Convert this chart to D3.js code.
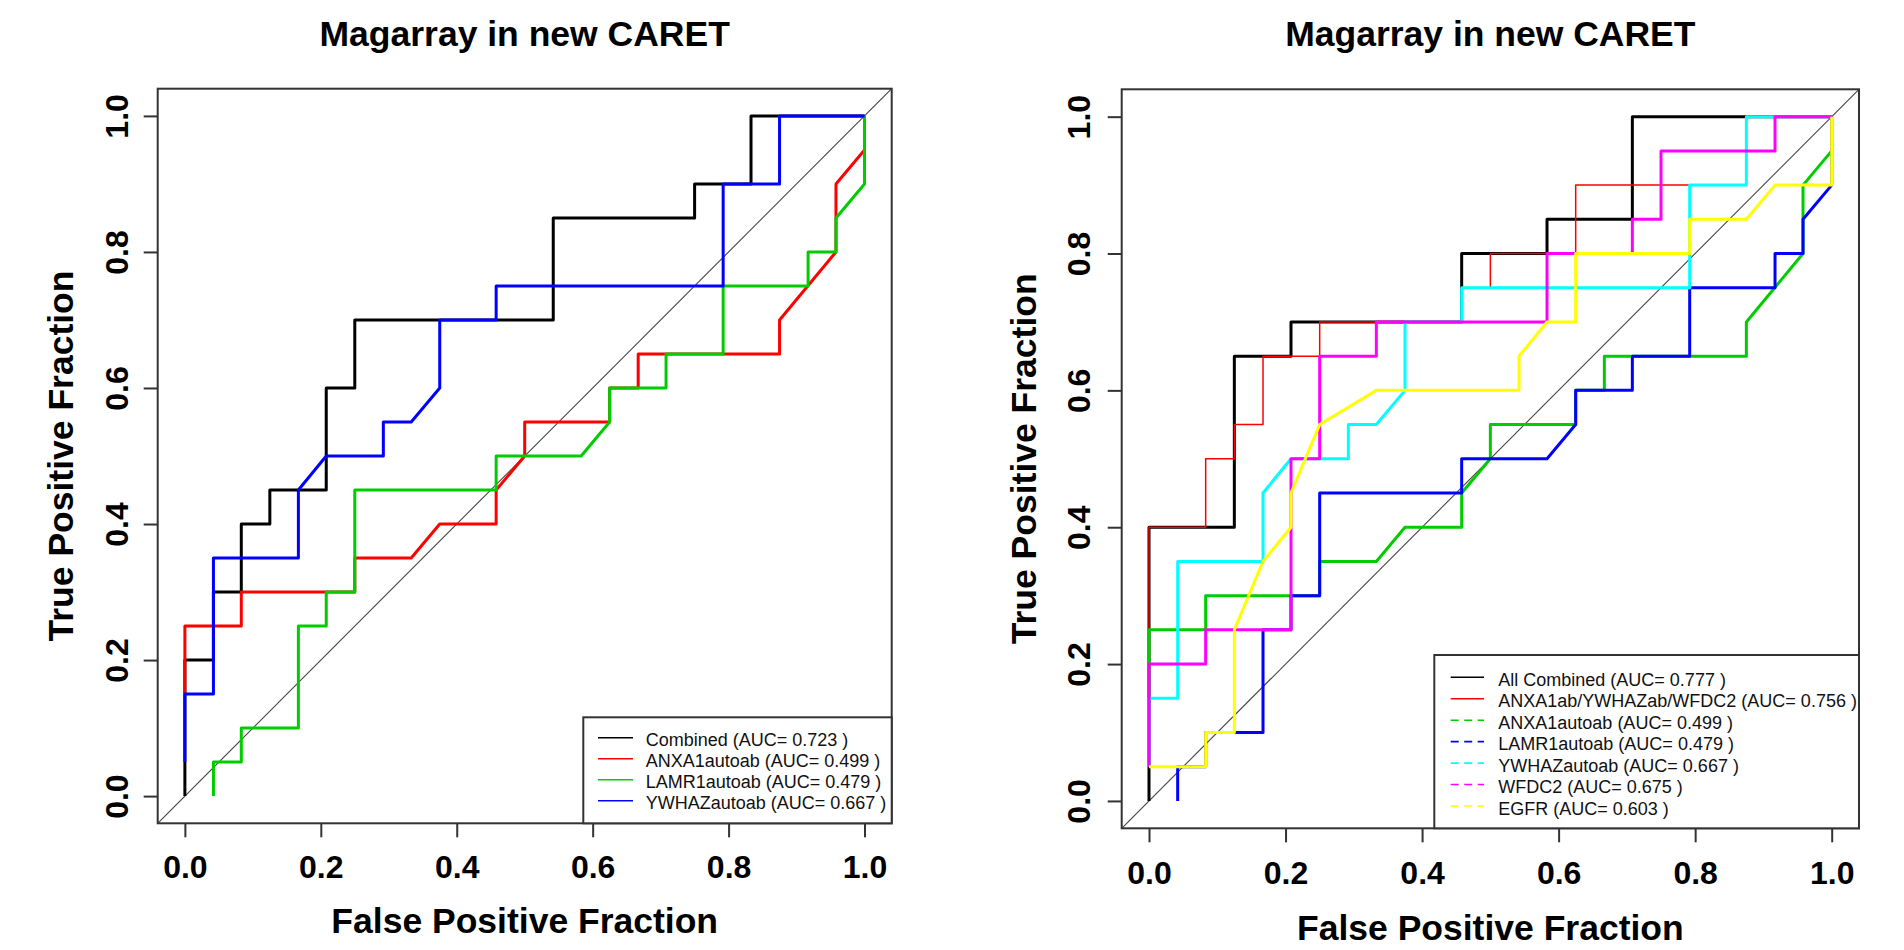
<!DOCTYPE html>
<html><head><meta charset="utf-8">
<script src="https://cdn.jsdelivr.net/npm/d3@7/dist/d3.min.js"></script>
<style>
body{margin:0;background:#fff;}
svg{display:block;}
text{font-family:"Liberation Sans", Arial, Helvetica, sans-serif;}
</style>
</head><body>
<svg id="chart" width="1904" height="950"></svg>
<script>
// ---------- data ----------
const plotTitle = "Magarray in new CARET";
const xAxisTitle = "False Positive Fraction";
const yAxisTitle = "True Positive Fraction";
const tickValues = [0, 0.2, 0.4, 0.6, 0.8, 1.0];
const tickLabels = ["0.0", "0.2", "0.4", "0.6", "0.8", "1.0"];

// left panel: Combined
const combinedFPR = [0, 0, 0.042, 0.042, 0.083, 0.083, 0.125, 0.125, 0.208, 0.208, 0.25, 0.25, 0.542, 0.542, 0.75, 0.75, 0.833, 0.833, 1];
const combinedTPR = [0, 0.2, 0.2, 0.3, 0.3, 0.4, 0.4, 0.45, 0.45, 0.6, 0.6, 0.7, 0.7, 0.85, 0.85, 0.9, 0.9, 1, 1];
// ANXA1autoab
const anxa1FPR = [0, 0, 0.083, 0.083, 0.25, 0.25, 0.333, 0.375, 0.458, 0.458, 0.5, 0.5, 0.625, 0.625, 0.667, 0.667, 0.875, 0.875, 0.958, 0.958, 1];
const anxa1TPR = [0.15, 0.25, 0.25, 0.3, 0.3, 0.35, 0.35, 0.4, 0.4, 0.45, 0.5, 0.55, 0.55, 0.6, 0.6, 0.65, 0.65, 0.7, 0.8, 0.9, 0.95];
// LAMR1autoab
const lamr1FPR = [0.042, 0.042, 0.083, 0.083, 0.167, 0.167, 0.208, 0.208, 0.25, 0.25, 0.458, 0.458, 0.583, 0.625, 0.625, 0.708, 0.708, 0.792, 0.792, 0.917, 0.917, 0.958, 0.958, 1, 1];
const lamr1TPR = [0, 0.05, 0.05, 0.1, 0.1, 0.25, 0.25, 0.3, 0.3, 0.45, 0.45, 0.5, 0.5, 0.55, 0.6, 0.6, 0.65, 0.65, 0.75, 0.75, 0.8, 0.8, 0.85, 0.9, 1];
// YWHAZautoab
const ywhazFPR = [0, 0, 0.042, 0.042, 0.167, 0.167, 0.208, 0.292, 0.292, 0.333, 0.375, 0.375, 0.458, 0.458, 0.792, 0.792, 0.875, 0.875, 1];
const ywhazTPR = [0.05, 0.15, 0.15, 0.35, 0.35, 0.45, 0.5, 0.5, 0.55, 0.55, 0.6, 0.7, 0.7, 0.75, 0.75, 0.9, 0.9, 1, 1];

// right panel: All Combined
const allCombinedFPR = [0, 0, 0.125, 0.125, 0.208, 0.208, 0.458, 0.458, 0.583, 0.583, 0.708, 0.708, 1];
const allCombinedTPR = [0, 0.4, 0.4, 0.65, 0.65, 0.7, 0.7, 0.8, 0.8, 0.85, 0.85, 1, 1];
// ANXA1ab/YWHAZab/WFDC2
const panelThreeFPR = [0, 0, 0.083, 0.083, 0.125, 0.125, 0.167, 0.167, 0.25, 0.25, 0.458, 0.458, 0.5, 0.5, 0.625, 0.625, 0.875, 0.875, 1];
const panelThreeTPR = [0.25, 0.4, 0.4, 0.5, 0.5, 0.55, 0.55, 0.65, 0.65, 0.7, 0.7, 0.75, 0.75, 0.8, 0.8, 0.9, 0.9, 1, 1];
// WFDC2
const wfdc2FPR = [0, 0, 0.083, 0.083, 0.208, 0.208, 0.25, 0.25, 0.333, 0.333, 0.583, 0.583, 0.708, 0.708, 0.75, 0.75, 0.917, 0.917, 1];
const wfdc2TPR = [0.05, 0.2, 0.2, 0.25, 0.25, 0.5, 0.5, 0.65, 0.65, 0.7, 0.7, 0.8, 0.8, 0.85, 0.85, 0.95, 0.95, 1, 1];
// EGFR
const egfrFPR = [0, 0.083, 0.083, 0.125, 0.125, 0.167, 0.208, 0.208, 0.25, 0.333, 0.542, 0.542, 0.583, 0.625, 0.625, 0.792, 0.792, 0.875, 0.917, 1, 1];
const egfrTPR = [0.05, 0.05, 0.1, 0.1, 0.25, 0.35, 0.4, 0.45, 0.55, 0.6, 0.6, 0.65, 0.7, 0.7, 0.8, 0.8, 0.85, 0.85, 0.9, 0.9, 1];

const leftLabels = ["Combined (AUC= 0.723 )", "ANXA1autoab (AUC= 0.499 )", "LAMR1autoab (AUC= 0.479 )", "YWHAZautoab (AUC= 0.667 )"];
const leftColors = ["#000000", "#ff0000", "#00cd00", "#0000ff"];
const rightLabels = ["All Combined (AUC= 0.777 )", "ANXA1ab/YWHAZab/WFDC2 (AUC= 0.756 )", "ANXA1autoab (AUC= 0.499 )", "LAMR1autoab (AUC= 0.479 )", "YWHAZautoab (AUC= 0.667 )", "WFDC2 (AUC= 0.675 )", "EGFR (AUC= 0.603 )"];
const rightColors = ["#000000", "#ff0000", "#00cd00", "#0000ff", "#00ffff", "#ff00ff", "#ffff00"];

// ---------- drawing ----------
const svg = d3.select("#chart");
svg.append("rect").attr("width", 1904).attr("height", 950).attr("fill", "#fff");

const zip = (xs, ys) => xs.map((x, i) => [x, ys[i]]);

function drawPanel(cfg) {
  const x = d3.scaleLinear().domain([-0.04, 1.04]).range([cfg.left, cfg.right]);
  const y = d3.scaleLinear().domain([-0.04, 1.04]).range([cfg.bottom, cfg.top]);
  const g = svg.append("g");
  const frame = "#333";

  // diagonal reference
  g.append("line")
    .attr("x1", x(-0.04)).attr("y1", y(-0.04)).attr("x2", x(1.04)).attr("y2", y(1.04))
    .attr("stroke", "#444").attr("stroke-width", 1.1);

  const line = d3.line().x(d => x(d[0])).y(d => y(d[1]));
  cfg.series.forEach(s => {
    g.append("path").attr("d", line(zip(s.fpr, s.tpr)))
      .attr("fill", "none").attr("stroke", s.color)
      .attr("stroke-width", s.width).attr("stroke-linejoin", "round").attr("stroke-linecap", "butt");
  });

  // box
  g.append("rect").attr("x", cfg.left).attr("y", cfg.top)
    .attr("width", cfg.right - cfg.left).attr("height", cfg.bottom - cfg.top)
    .attr("fill", "none").attr("stroke", frame).attr("stroke-width", 2);

  // x axis
  const xa = g.append("g").attr("transform", `translate(0,${cfg.bottom})`)
    .call(d3.axisBottom(x).tickValues(tickValues).tickFormat((d, i) => tickLabels[i]).tickSize(14).tickPadding(cfg.xPad));
  xa.select(".domain").remove();
  xa.selectAll(".tick line").attr("stroke", frame).attr("stroke-width", 2);
  xa.selectAll(".tick text").attr("font-size", 32).attr("font-weight", "bold").attr("fill", "#000")
    .attr("font-family", "'Liberation Sans', Arial, sans-serif");

  // y axis
  const ya = g.append("g").attr("transform", `translate(${cfg.left},0)`)
    .call(d3.axisLeft(y).tickValues(tickValues).tickFormat((d, i) => tickLabels[i]).tickSize(14));
  ya.select(".domain").remove();
  ya.selectAll(".tick line").attr("stroke", frame).attr("stroke-width", 2);
  ya.selectAll(".tick text")
    .attr("x", null).attr("dy", null)
    .attr("transform", `translate(${-cfg.yLabOff},0) rotate(-90)`)
    .attr("text-anchor", "middle")
    .attr("font-size", 32).attr("font-weight", "bold").attr("fill", "#000")
    .attr("font-family", "'Liberation Sans', Arial, sans-serif");

  const cx = (cfg.left + cfg.right) / 2, cy = (cfg.top + cfg.bottom) / 2;
  g.append("text").attr("x", cx).attr("y", cfg.titleY).attr("text-anchor", "middle")
    .attr("font-size", 35.5).attr("font-weight", "bold").text(plotTitle);
  g.append("text").attr("x", cx).attr("y", cfg.xTitleY).attr("text-anchor", "middle")
    .attr("font-size", 35.5).attr("font-weight", "bold").text(xAxisTitle);
  g.append("text").attr("transform", `translate(${cfg.yTitleX},${cy}) rotate(-90)`).attr("text-anchor", "middle")
    .attr("font-size", 35.5).attr("font-weight", "bold").text(yAxisTitle);

  // legend
  const L = cfg.legend;
  g.append("rect").attr("x", L.x).attr("y", L.y).attr("width", cfg.right - L.x).attr("height", cfg.bottom - L.y)
    .attr("fill", "#fff").attr("stroke", frame).attr("stroke-width", 2);
  L.labels.forEach((lab, i) => {
    const ry = L.firstRow + i * L.step;
    g.append("line").attr("x1", L.x + L.lx1).attr("x2", L.x + L.lx2).attr("y1", ry).attr("y2", ry)
      .attr("stroke", L.colors[i]).attr("stroke-width", 1.6)
      .attr("stroke-dasharray", L.dashed[i] ? "8,5.5" : null);
    g.append("text").attr("x", L.x + L.tx).attr("y", ry + 8.5).attr("font-size", 18).attr("fill", "#111").text(lab);
  });
}

drawPanel({
  left: 157.7, right: 891.7, top: 88.7, bottom: 823.3,
  xPad: 18.3, yLabOff: 30, titleY: 45.5, xTitleY: 933, yTitleX: 72.7,
  series: [
    {fpr: combinedFPR, tpr: combinedTPR, color: leftColors[0], width: 3},
    {fpr: anxa1FPR, tpr: anxa1TPR, color: leftColors[1], width: 3},
    {fpr: lamr1FPR, tpr: lamr1TPR, color: leftColors[2], width: 3},
    {fpr: ywhazFPR, tpr: ywhazTPR, color: leftColors[3], width: 3}
  ],
  legend: {x: 583.3, y: 717.3, firstRow: 737.8, step: 21, lx1: 14.7, lx2: 49.7, tx: 62.4,
    labels: leftLabels, colors: leftColors, dashed: [false, false, false, false]}
});

drawPanel({
  left: 1121.7, right: 1859, top: 89.3, bottom: 828.3,
  xPad: 18.7, yLabOff: 31.5, titleY: 45.5, xTitleY: 939.5, yTitleX: 1035.5,
  series: [
    {fpr: allCombinedFPR, tpr: allCombinedTPR, color: rightColors[0], width: 3},
    {fpr: panelThreeFPR, tpr: panelThreeTPR, color: rightColors[1], width: 1.5},
    {fpr: anxa1FPR, tpr: anxa1TPR, color: rightColors[2], width: 3},
    {fpr: lamr1FPR, tpr: lamr1TPR, color: rightColors[3], width: 3},
    {fpr: ywhazFPR, tpr: ywhazTPR, color: rightColors[4], width: 3},
    {fpr: wfdc2FPR, tpr: wfdc2TPR, color: rightColors[5], width: 3},
    {fpr: egfrFPR, tpr: egfrTPR, color: rightColors[6], width: 3}
  ],
  legend: {x: 1434.3, y: 655, firstRow: 677.3, step: 21.45, lx1: 16.4, lx2: 49.7, tx: 64,
    labels: rightLabels, colors: rightColors, dashed: [false, false, true, true, true, true, true]}
});
</script>
</body></html>
